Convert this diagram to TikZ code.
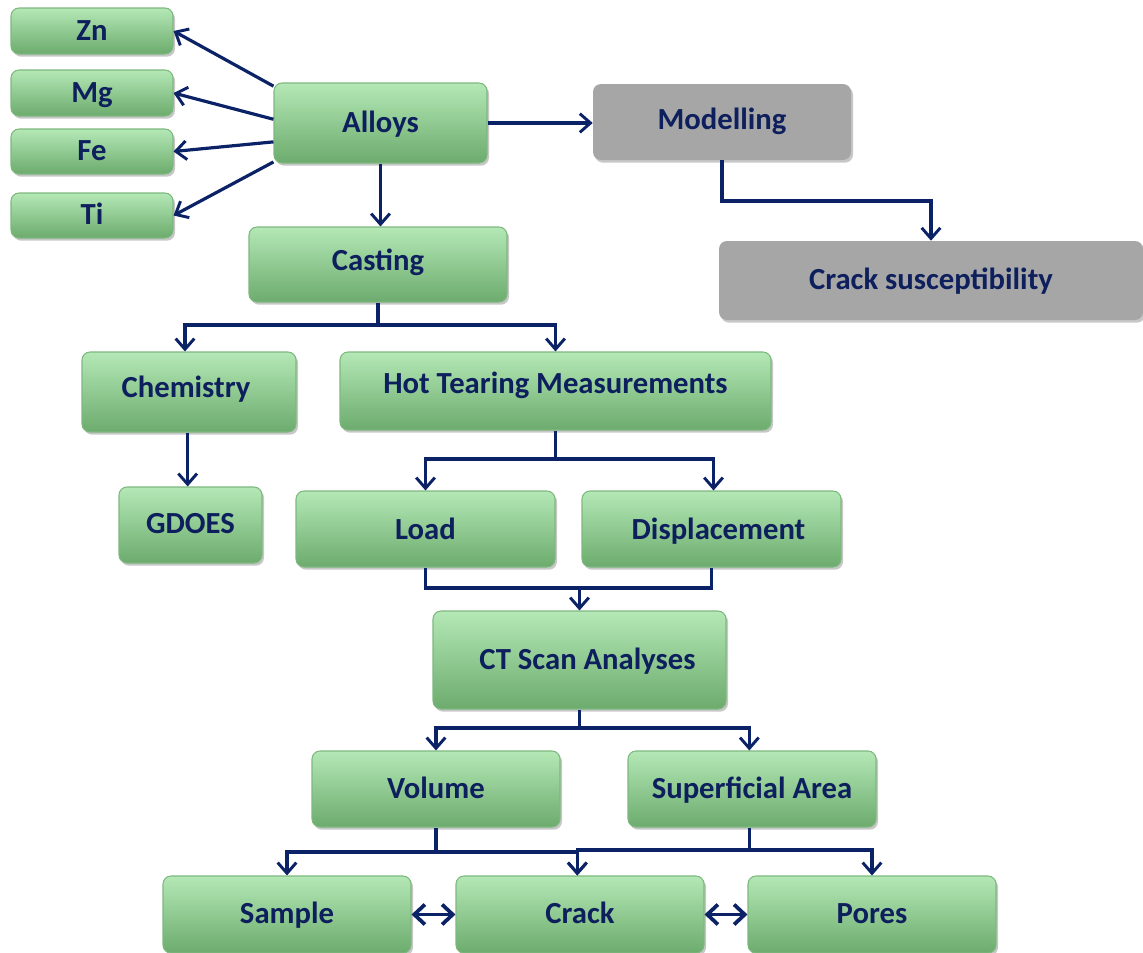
\documentclass[tikz,border=0pt]{standalone}
\usepackage{fontspec}
\setmainfont{Carlito}
\usetikzlibrary{arrows.meta,shadows,calc}
\definecolor{gtop}{HTML}{B4E8B6}
\definecolor{gbot}{HTML}{6CAB6D}
\definecolor{gborder}{HTML}{7DB87E}
\definecolor{navy}{HTML}{0D1F5C}
\definecolor{arrowc}{HTML}{0B2266}
\definecolor{greyfill}{HTML}{A6A6A6}
\tikzset{
  base/.style={rounded corners=6pt, inner sep=0pt, font=\fontsize{23}{27}\selectfont\bfseries, text=navy,
    text height=17pt, text depth=3pt,
    drop shadow={shadow xshift=1.5pt, shadow yshift=-2pt, opacity=0.22, fill=black}},
  gbox/.style={base, draw=gborder, line width=0.8pt, top color=gtop, bottom color=gbot},
  greybox/.style={base, fill=greyfill},
  conn/.style={draw=arrowc, line width=2.4pt},
  arr/.style={conn, -{Straight Barb[length=8pt,width=14pt,line width=2.2pt]}},
  darr/.style={conn, {Straight Barb[length=8pt,width=15pt,line width=2.8pt]}-{Straight Barb[length=8pt,width=15pt,line width=2.8pt]}},
}
\newcommand\gbx[7]{\node[#1, minimum width={(#4-#2)*0.75pt}, minimum height={(#5-#3)*0.75pt}] (#6) at ({(#2+#4)/2},{(#3+#5)/2}) {#7};}
\begin{document}
\begin{tikzpicture}[x=0.75pt,y=-0.75pt]
\useasboundingbox (0,0) rectangle (1143,953);
% nodes
\gbx{gbox}{11}{8}{173}{54}{zn}{Zn}
\gbx{gbox}{11}{70}{173}{116}{mg}{Mg}
\gbx{gbox}{11}{129}{173}{174}{fe}{Fe}
\gbx{gbox}{11}{193}{173}{238}{ti}{Ti}
\gbx{gbox}{274}{83}{487}{163}{alloys}{Alloys}
\gbx{greybox}{593}{84}{851}{160}{model}{\raisebox{1.5pt}{Modelling}}
\gbx{greybox}{719}{241}{1143}{320}{cs}{Crack susceptibility}
\gbx{gbox}{249}{227}{507}{302}{casting}{\raisebox{2.25pt}{Casting}}
\gbx{gbox}{82}{352}{296}{432}{chem}{\raisebox{3pt}{Chemistry\hspace{4.5pt}}}
\gbx{gbox}{340}{352}{771}{430}{htm}{\raisebox{5pt}{Hot Tearing Measurements}}
\gbx{gbox}{119}{487}{262}{563}{gdoes}{\raisebox{1pt}{GDOES}}
\gbx{gbox}{296}{491}{555}{567}{load}{\raisebox{-1pt}{Load}}
\gbx{gbox}{582}{491}{841}{567}{disp}{\raisebox{-1pt}{\hspace{10.5pt}Displacement}}
\gbx{gbox}{433}{611}{726}{709}{ct}{\hspace{12pt}CT Scan Analyses}
\gbx{gbox}{312}{751}{560}{827}{vol}{Volume}
\gbx{gbox}{628}{751}{876}{827}{sa}{Superficial Area}
\gbx{gbox}{163}{876}{411}{953}{sample}{Sample}
\gbx{gbox}{456}{876}{704}{953}{crack}{Crack}
\gbx{gbox}{748}{876}{996}{953}{pores}{Pores}
% alloys fan
\draw[arr] (alloys.161) -- (zn.east);
\draw[arr] (alloys.178) -- (mg.east);
\draw[arr] (alloys.190) -- (fe.east);
\draw[arr] (alloys.200) -- (ti.east);
\draw[arr] (alloys.east) -- (model.west |- alloys.east);
\draw[arr] (alloys.south) -- (alloys.south |- casting.north);
% modelling
\coordinate (m1) at (model.south |- 0,201);
\draw[arr] (model.south) -- (m1) -| (cs.north);
% casting split
\coordinate (c1) at (casting.south |- 0,325);
\draw[conn] (casting.south) -- (c1);
\draw[arr] (c1) -| ([xshift=-3]chem.north);
\draw[arr] (c1) -| (htm.north);
\draw[arr] ([xshift=-1]chem.south) -- ([xshift=-1]chem.south |- gdoes.north);
% htm split
\coordinate (h1) at (htm.south |- 0,459);
\draw[conn] (htm.south) -- (h1);
\draw[arr] (h1) -| (load.north);
\draw[arr] (h1) -| ([xshift=1.5]disp.north);
% join to CT
\draw[conn] (load.south) -- (load.south |- 0,588) -- (disp.south |- 0,588) -- (disp.south);
\coordinate (j1) at (ct.north |- 0,588);
\draw[arr] (j1) -- (ct.north);
% CT split
\coordinate (t1) at (ct.south |- 0,728);
\draw[conn] (ct.south) -- (t1);
\draw[arr] (t1) -| (vol.north);
\draw[arr] (t1) -| ([xshift=-2]sa.north);
% volume / superficial split
\coordinate (v1) at (vol.south |- 0,852);
\coordinate (s1) at ([xshift=-2]sa.south |- 0,850);
\draw[conn] (vol.south) -- (v1);
\draw[conn] ([xshift=-2]sa.south) -- (s1);
\draw[arr] (v1) -| (sample.north);
\draw[arr] (v1) -| ([xshift=-2]crack.north);
\draw[arr] (s1) -| ([xshift=-2]crack.north);
\draw[arr] (s1) -| (pores.north);
% bottom double arrows
\draw[darr] (sample.east) -- (crack.west);
\draw[darr] (crack.east) -- (pores.west);
\end{tikzpicture}
\end{document}
